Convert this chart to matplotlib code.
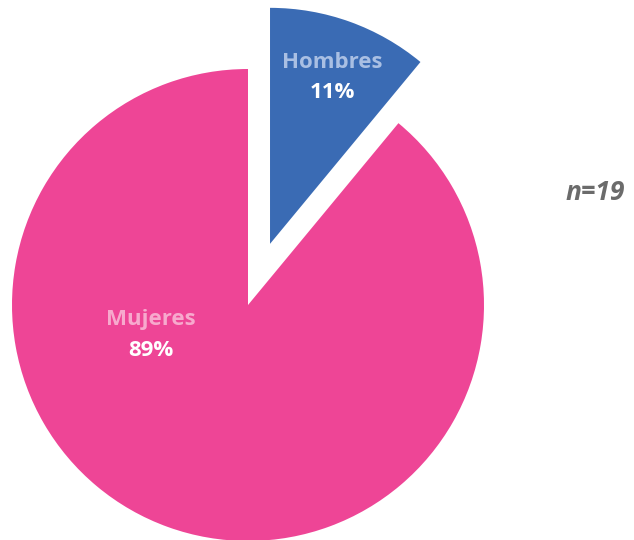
import matplotlib
matplotlib.use("Agg")
import matplotlib.pyplot as plt

labels = ["Hombres", "Mujeres"]
values = [11, 89]
colors = ["#3A6BB4", "#EE4596"]
label_colors = ["#A9BFE3", "#F7A9CD"]
n_text = "n=19"

fig = plt.figure(figsize=(6.34, 5.40), dpi=100)
ax = fig.add_axes([0, 0, 1, 1])

# explode offset is in data units here (pixels)
wedges, _ = ax.pie(values, colors=colors, startangle=90, counterclock=False,
                   explode=[65, 0], center=(248, 235), radius=236,
                   wedgeprops=dict(linewidth=0))
ax.set_xlim(0, 634)
ax.set_ylim(0, 540)
ax.set_aspect("equal")
ax.axis("off")

fnt = "Open Sans"
ax.text(332, 477, labels[0], color=label_colors[0], fontsize=16, fontweight="bold",
        family=fnt, ha="center", va="center")
ax.text(332, 447, f"{values[0]}%", color="white", fontsize=16, fontweight="bold",
        family=fnt, ha="center", va="center")
ax.text(151, 220, labels[1], color=label_colors[1], fontsize=16, fontweight="bold",
        family=fnt, ha="center", va="center")
ax.text(151, 190, f"{values[1]}%", color="white", fontsize=16, fontweight="bold",
        family=fnt, ha="center", va="center")
ax.text(566, 348, n_text, color="#6B6B6B", fontsize=19, fontweight="bold",
        fontstyle="italic", family=fnt, ha="left", va="center")

fig.savefig("out.png", dpi=100)
